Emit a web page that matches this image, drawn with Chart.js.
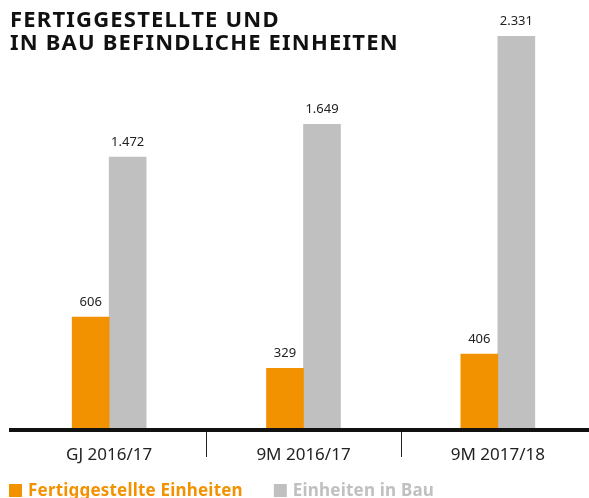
<!DOCTYPE html>
<html>
<head>
<meta charset="utf-8">
<script src="https://cdn.jsdelivr.net/npm/chart.js@4"></script>
<style>
  html, body { margin: 0; padding: 0; background: #fff; overflow: hidden; }
  #wrap { position: relative; width: 600px; height: 498px; }
  #title {
    position: absolute; left: 10px; top: 7px;
    font: bold 22px 'Noto Sans', sans-serif; line-height: 23px;
    color: #111; letter-spacing: 1.2px;
  }
</style>
</head>
<body>
<div id="wrap">
  <canvas id="chart" width="600" height="498"></canvas>
  <div id="title">FERTIGGESTELLTE UND<br>IN BAU BEFINDLICHE EINHEITEN</div>
</div>
<script>
// data
const categories = ['GJ 2016/17', '9M 2016/17', '9M 2017/18'];
const fertiggestellt = [606, 329, 406];
const inBau = [1472, 1649, 2331];
const seriesNames = ['Fertiggestellte Einheiten', 'Einheiten in Bau'];
const seriesColors = ['#f39200', '#c0c0c0'];

// 1472 -> "1.472"
function fmt(v) {
  return String(v).replace(/\B(?=(\d{3})+(?!\d))/g, '.');
}

const extras = {
  id: 'extras',
  afterDatasetsDraw(chart) {
    const ctx = chart.ctx;
    const area = chart.chartArea;
    ctx.save();

    // value labels above bars
    ctx.font = '13px "Noto Sans"';
    ctx.fillStyle = '#222';
    ctx.textAlign = 'center';
    ctx.textBaseline = 'middle';
    chart.data.datasets.forEach((ds, i) => {
      chart.getDatasetMeta(i).data.forEach((bar, j) => {
        const top = Math.max(bar.y, area.top);
        ctx.fillText(fmt(ds.data[j]), bar.x, top - 15);
      });
    });

    // axis line
    ctx.fillStyle = '#111';
    ctx.fillRect(9, area.bottom - 1, chart.width, 4);

    // dividers between categories, below the axis
    const xs = chart.scales.x;
    ctx.strokeStyle = '#222';
    ctx.lineWidth = 1;
    for (let i = 0; i < categories.length - 1; i++) {
      const px = Math.round((xs.getPixelForTick(i) + xs.getPixelForTick(i + 1)) / 2) + 0.5;
      ctx.beginPath();
      ctx.moveTo(px, area.bottom + 3);
      ctx.lineTo(px, area.bottom + 28);
      ctx.stroke();
    }

    // legend
    ctx.font = 'bold 17px "Noto Sans"';
    ctx.letterSpacing = '0.2px';
    ctx.textAlign = 'left';
    let x = 9;
    chart.data.datasets.forEach(ds => {
      ctx.fillStyle = ds.backgroundColor;
      ctx.fillRect(x, 484, 13, 13);
      ctx.fillText(ds.label, x + 19, 491);
      x += 19 + ctx.measureText(ds.label).width + 31;
    });

    ctx.restore();
  }
};

new Chart(document.getElementById('chart'), {
  type: 'bar',
  data: {
    labels: categories,
    datasets: [
      { label: seriesNames[0], data: fertiggestellt, backgroundColor: seriesColors[0], barThickness: 37 },
      { label: seriesNames[1], data: inBau, backgroundColor: seriesColors[1], barThickness: 37 }
    ]
  },
  options: {
    responsive: false,
    animation: false,
    layout: { padding: { left: 12, right: 5, top: 36, bottom: 0 } },
    plugins: {
      legend: { display: false },
      tooltip: { enabled: false }
    },
    scales: {
      x: {
        grid: { display: false },
        border: { display: false },
        ticks: { color: '#222', font: { family: 'Noto Sans', size: 17 }, padding: 8, maxRotation: 0 },
        afterFit: s => { s.height = 69; }
      },
      y: {
        display: false,
        min: 0,
        max: 2127
      }
    }
  },
  plugins: [extras]
});
</script>
</body>
</html>
